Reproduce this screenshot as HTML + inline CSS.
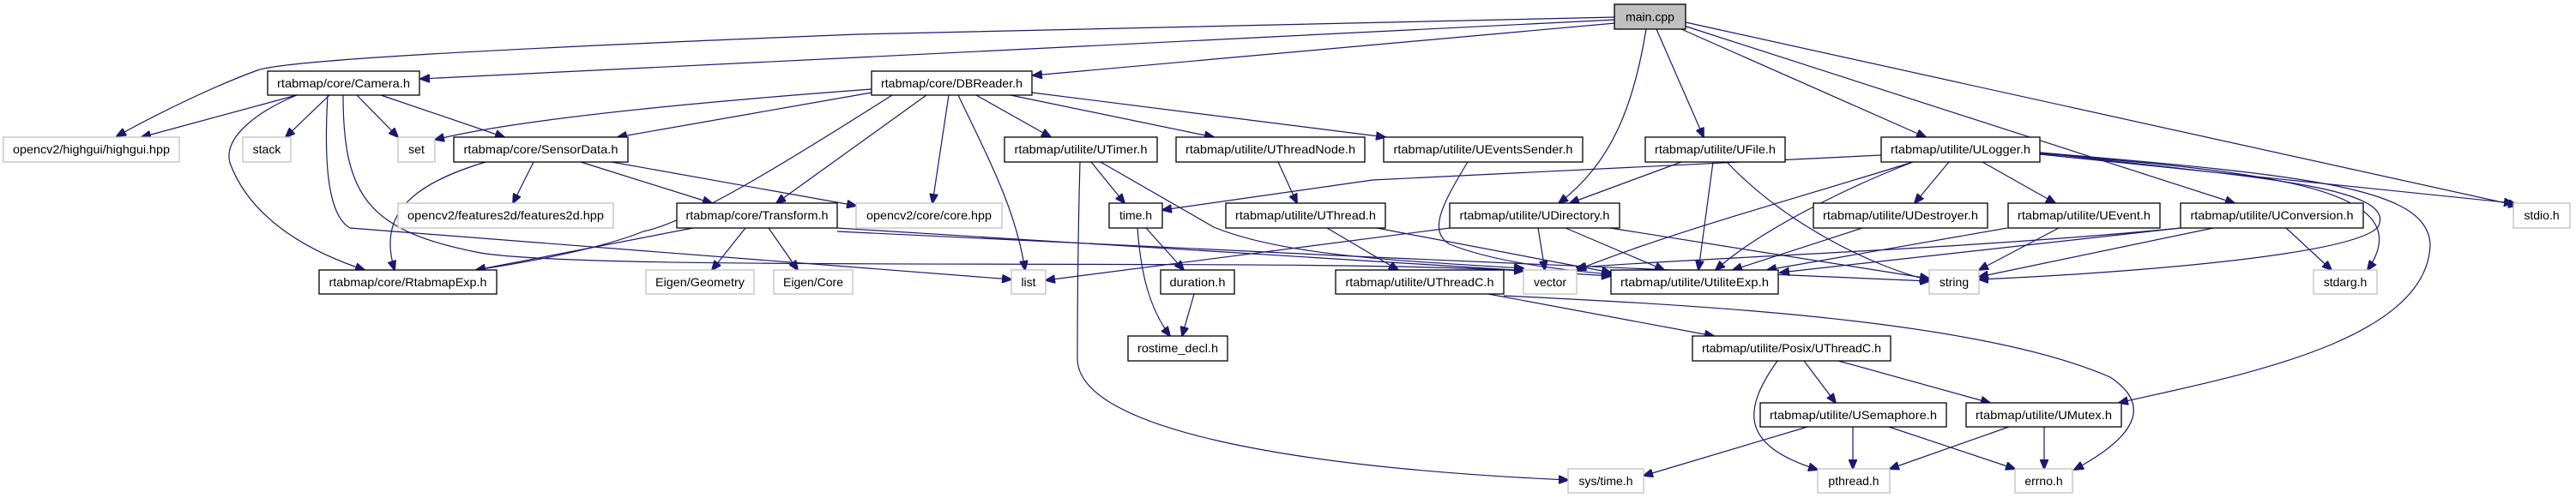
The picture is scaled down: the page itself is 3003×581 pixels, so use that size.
<!DOCTYPE html>
<html><head><meta charset="utf-8"><style>
html,body{margin:0;padding:0;background:#fff;}
svg{display:block;}
text{font-family:"Liberation Sans","DejaVu Sans",sans-serif;font-size:14px;fill:#000;}
.b{fill:#fff;stroke:#000;stroke-width:1.3;}
.g{fill:#fff;stroke:#bfbfbf;stroke-width:1.3;}
.e{fill:none;stroke:#191970;stroke-width:1.2;}
</style></head><body>
<svg width="3003" height="581" viewBox="0 0 3003 581" xmlns="http://www.w3.org/2000/svg">
<defs><marker id="a" markerWidth="12" markerHeight="10" refX="11" refY="5" orient="auto" markerUnits="userSpaceOnUse"><path d="M0,0 L12,5 L0,10 z" fill="#191970" stroke="#191970"/></marker></defs>
<g marker-end="url(#a)" class="e">
<!-- main -->
<path d="M1883,20 L1000,40 C500,60 330,72 300,82 C240,104 170,140 136,159"/>
<path d="M1883,23 L1000,67 L490,92"/>
<path d="M1883,27 L1204,88"/>
<path d="M1919,34 C1905,120 1880,190 1817,237"/>
<path d="M1931,34 L1986,160"/>
<path d="M1960,34 L2245,160"/>
<path d="M1963,30 L2605,237"/>
<path d="M1965,26 L2935,240"/>
<!-- Camera -->
<path d="M346,111 L165,160"/>
<path d="M346,111 C300,130 260,160 268,190 C290,250 350,290 425,315"/>
<path d="M384,111 L333,160"/>
<path d="M416,111 L464,160"/>
<path d="M444,111 L588,160"/>
<path d="M382,111 C378,180 380,250 408,266 L1179,326"/>
<path d="M400,111 C400,230 430,270 560,295 C700,318 1500,300 1776,316"/>
<!-- SensorData -->
<path d="M566,189 C480,215 440,250 460,315"/>
<path d="M622,189 L598,237"/>
<path d="M677,189 L830,237"/>
<path d="M713,189 L998,240"/>
<!-- Transform -->
<path d="M808,266 L555,315"/>
<path d="M869,266 L830,315"/>
<path d="M896,266 L930,315"/>
<path d="M976,266 L1878,322"/>
<path d="M976,270 L1600,300 L2249,328"/>
<!-- DBReader -->
<path d="M1016,104 C800,120 600,140 507,163"/>
<path d="M1016,108 L720,160"/>
<path d="M1040,111 C900,200 800,260 750,270 C700,290 620,305 555,315"/>
<path d="M1080,111 L905,237"/>
<path d="M1106,111 L1087,237"/>
<path d="M1117,111 C1160,200 1185,250 1195,315"/>
<path d="M1138,111 L1225,160"/>
<path d="M1178,111 L1415,160"/>
<path d="M1203,108 L1615,160"/>
<!-- UTimer -->
<path d="M1272,189 L1311,237"/>
<path d="M1259,189 C1256,300 1256,380 1256,420 C1260,500 1500,545 1828,560"/>
<path d="M1283,189 L1415,265 C1500,300 1650,305 1776,313"/>
<!-- others -->
<path d="M1490,189 L1512,237"/>
<path d="M1711,189 C1680,240 1665,270 1690,285 C1740,305 1820,315 1878,320"/>
<path d="M1960,189 L1830,237"/>
<path d="M1997,189 L1980,315"/>
<path d="M2013,189 C2080,260 2180,310 2249,327"/>
<path d="M1336,266 L1380,315"/>
<path d="M1326,266 C1330,320 1340,360 1364,392"/>
<path d="M1392,343 L1378,392"/>
<path d="M1547,266 L1630,315"/>
<path d="M1605,266 L1878,318"/>
<path d="M1690,266 L1219,327"/>
<path d="M1793,266 L1801,315"/>
<path d="M1825,266 L1940,315"/>
<path d="M1877,266 L2249,325"/>
<path d="M1735,343 L1998,392"/>
<path d="M1753,345 C1950,355 2300,370 2460,440 C2520,480 2470,520 2418,548"/>
<path d="M2103,421 L2140,470"/>
<path d="M2143,421 L2320,470"/>
<path d="M2072,421 C2030,480 2030,520 2119,548"/>
<path d="M2107,498 L1916,555"/>
<path d="M2160,498 L2160,547"/>
<path d="M2202,498 L2349,547"/>
<path d="M2342,498 L2203,547"/>
<path d="M2383,498 L2383,547"/>
<!-- ULogger -->
<path d="M2193,181 L1600,210 L1355,245"/>
<path d="M2230,189 C2100,230 1950,270 1838,315"/>
<path d="M2230,189 C2150,220 2050,270 2000,315"/>
<path d="M2272,189 L2232,237"/>
<path d="M2311,189 L2396,237"/>
<path d="M2378,178 C2600,205 2800,215 2772,265 C2740,300 2450,320 2307,326"/>
<path d="M2378,179 C2620,200 2830,215 2760,315"/>
<path d="M2378,180 L2930,237"/>
<path d="M2378,178 C2700,205 2830,220 2833,285 C2830,400 2600,440 2470,470"/>
<path d="M2171,266 L2020,315"/>
<path d="M2340,266 L2060,315"/>
<path d="M2400,266 L2307,315"/>
<path d="M2542,266 L2075,318"/>
<path d="M2542,266 C2300,290 2000,300 1838,312"/>
<path d="M2580,266 L2307,323"/>
<path d="M2665,266 L2718,315"/>
</g>
<!-- nodes -->
<g>
<rect class="b" x="1882" y="5" width="83" height="29" style="fill:#bfbfbf"/><text x="1923.5" y="24.5" text-anchor="middle">main.cpp</text>
<rect class="b" x="312" y="83" width="177" height="28"/><text x="400.5" y="102" text-anchor="middle" textLength="155" lengthAdjust="spacingAndGlyphs">rtabmap/core/Camera.h</text>
<rect class="b" x="1016" y="83" width="187" height="28"/><text x="1109.5" y="102" text-anchor="middle" textLength="165" lengthAdjust="spacingAndGlyphs">rtabmap/core/DBReader.h</text>
<rect class="g" x="4" y="160" width="205" height="29"/><text x="106.5" y="179" text-anchor="middle" textLength="183" lengthAdjust="spacingAndGlyphs">opencv2/highgui/highgui.hpp</text>
<rect class="g" x="283" y="160" width="56" height="29"/><text x="311" y="179" text-anchor="middle">stack</text>
<rect class="g" x="464" y="160" width="43" height="29"/><text x="485.5" y="179" text-anchor="middle">set</text>
<rect class="b" x="529" y="160" width="203" height="29"/><text x="630.5" y="179" text-anchor="middle" textLength="180" lengthAdjust="spacingAndGlyphs">rtabmap/core/SensorData.h</text>
<rect class="b" x="1171" y="160" width="178" height="29"/><text x="1260" y="179" text-anchor="middle" textLength="155" lengthAdjust="spacingAndGlyphs">rtabmap/utilite/UTimer.h</text>
<rect class="b" x="1371" y="160" width="220" height="29"/><text x="1481" y="179" text-anchor="middle" textLength="198" lengthAdjust="spacingAndGlyphs">rtabmap/utilite/UThreadNode.h</text>
<rect class="b" x="1613" y="160" width="232" height="29"/><text x="1729" y="179" text-anchor="middle" textLength="209" lengthAdjust="spacingAndGlyphs">rtabmap/utilite/UEventsSender.h</text>
<rect class="b" x="1918" y="160" width="163" height="29"/><text x="1999.5" y="179" text-anchor="middle" textLength="141" lengthAdjust="spacingAndGlyphs">rtabmap/utilite/UFile.h</text>
<rect class="b" x="2193" y="160" width="185" height="29"/><text x="2285.5" y="179" text-anchor="middle" textLength="163" lengthAdjust="spacingAndGlyphs">rtabmap/utilite/ULogger.h</text>
<rect class="g" x="464" y="237" width="251" height="29"/><text x="589.5" y="256" text-anchor="middle" textLength="229" lengthAdjust="spacingAndGlyphs">opencv2/features2d/features2d.hpp</text>
<rect class="b" x="789" y="237" width="187" height="29"/><text x="882.5" y="256" text-anchor="middle" textLength="166" lengthAdjust="spacingAndGlyphs">rtabmap/core/Transform.h</text>
<rect class="g" x="998" y="237" width="170" height="29"/><text x="1083" y="256" text-anchor="middle" textLength="146" lengthAdjust="spacingAndGlyphs">opencv2/core/core.hpp</text>
<rect class="b" x="1293" y="237" width="62" height="29"/><text x="1324" y="256" text-anchor="middle">time.h</text>
<rect class="b" x="1429" y="237" width="186" height="29"/><text x="1522" y="256" text-anchor="middle" textLength="164" lengthAdjust="spacingAndGlyphs">rtabmap/utilite/UThread.h</text>
<rect class="b" x="1690" y="237" width="198" height="29"/><text x="1789" y="256" text-anchor="middle" textLength="175" lengthAdjust="spacingAndGlyphs">rtabmap/utilite/UDirectory.h</text>
<rect class="b" x="2114" y="237" width="203" height="29"/><text x="2215.5" y="256" text-anchor="middle" textLength="181" lengthAdjust="spacingAndGlyphs">rtabmap/utilite/UDestroyer.h</text>
<rect class="b" x="2341" y="237" width="177" height="29"/><text x="2429.5" y="256" text-anchor="middle" textLength="155" lengthAdjust="spacingAndGlyphs">rtabmap/utilite/UEvent.h</text>
<rect class="b" x="2542" y="237" width="213" height="29"/><text x="2648.5" y="256" text-anchor="middle" textLength="190" lengthAdjust="spacingAndGlyphs">rtabmap/utilite/UConversion.h</text>
<rect class="g" x="2930" y="237" width="66" height="29"/><text x="2963" y="256" text-anchor="middle">stdio.h</text>
<rect class="b" x="372" y="315" width="207" height="28"/><text x="475.5" y="334" text-anchor="middle" textLength="184" lengthAdjust="spacingAndGlyphs">rtabmap/core/RtabmapExp.h</text>
<rect class="g" x="753" y="315" width="126" height="28"/><text x="816" y="334" text-anchor="middle" textLength="104" lengthAdjust="spacingAndGlyphs">Eigen/Geometry</text>
<rect class="g" x="902" y="315" width="92" height="28"/><text x="948" y="334" text-anchor="middle" textLength="70" lengthAdjust="spacingAndGlyphs">Eigen/Core</text>
<rect class="g" x="1179" y="315" width="40" height="28"/><text x="1199" y="334" text-anchor="middle">list</text>
<rect class="b" x="1353" y="315" width="86" height="28"/><text x="1396" y="334" text-anchor="middle" textLength="65" lengthAdjust="spacingAndGlyphs">duration.h</text>
<rect class="b" x="1557" y="315" width="196" height="28"/><text x="1655" y="334" text-anchor="middle" textLength="173" lengthAdjust="spacingAndGlyphs">rtabmap/utilite/UThreadC.h</text>
<rect class="g" x="1776" y="315" width="62" height="28"/><text x="1807" y="334" text-anchor="middle">vector</text>
<rect class="b" x="1878" y="315" width="195" height="28"/><text x="1975.5" y="334" text-anchor="middle" textLength="173" lengthAdjust="spacingAndGlyphs">rtabmap/utilite/UtiliteExp.h</text>
<rect class="g" x="2249" y="315" width="58" height="28"/><text x="2278" y="334" text-anchor="middle">string</text>
<rect class="g" x="2697" y="315" width="74" height="28"/><text x="2734" y="334" text-anchor="middle">stdarg.h</text>
<rect class="b" x="1315" y="392" width="116" height="29"/><text x="1373" y="411" text-anchor="middle" textLength="94" lengthAdjust="spacingAndGlyphs">rostime_decl.h</text>
<rect class="b" x="1973" y="392" width="231" height="29"/><text x="2088.5" y="411" text-anchor="middle" textLength="209" lengthAdjust="spacingAndGlyphs">rtabmap/utilite/Posix/UThreadC.h</text>
<rect class="b" x="2052" y="470" width="217" height="28"/><text x="2160.5" y="489" text-anchor="middle" textLength="195" lengthAdjust="spacingAndGlyphs">rtabmap/utilite/USemaphore.h</text>
<rect class="b" x="2292" y="470" width="181" height="28"/><text x="2382.5" y="489" text-anchor="middle" textLength="159" lengthAdjust="spacingAndGlyphs">rtabmap/utilite/UMutex.h</text>
<rect class="g" x="1828" y="547" width="88" height="28"/><text x="1872" y="566" text-anchor="middle">sys/time.h</text>
<rect class="g" x="2119" y="547" width="84" height="28"/><text x="2161" y="566" text-anchor="middle">pthread.h</text>
<rect class="g" x="2349" y="547" width="67" height="28"/><text x="2382.5" y="566" text-anchor="middle">errno.h</text>
</g>
</svg>
</body></html>
